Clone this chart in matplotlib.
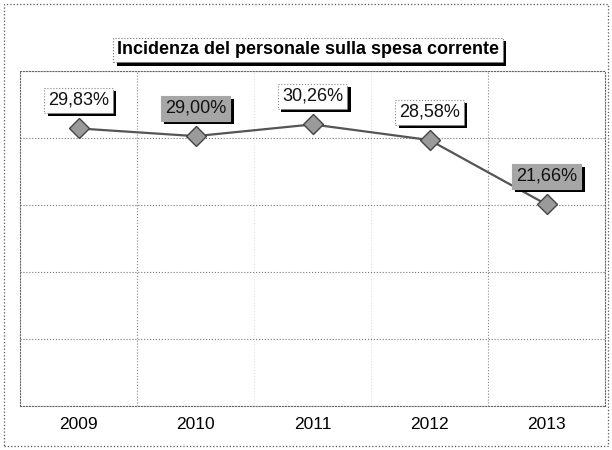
import matplotlib
matplotlib.use("Agg")
import matplotlib.pyplot as plt
import matplotlib.patheffects as pe
from matplotlib.patches import Rectangle
import numpy as np

plt.rcParams['font.family'] = ['Liberation Sans', 'DejaVu Sans']

years = ['2009', '2010', '2011', '2012', '2013']
values = [29.83, 29.00, 30.26, 28.58, 21.66]
labels = ['29,83%', '29,00%', '30,26%', '28,58%', '21,66%']
label_shaded = [False, True, False, False, True]
title = 'Incidenza del personale sulla spesa corrente'

fig = plt.figure(figsize=(6.12, 4.5), dpi=100)
ax = fig.add_axes([20/612, 44/450, 585/612, 335/450])

x = np.arange(len(years))
ax.plot(x, values, color='#555555', lw=1.6, marker='D', markersize=10,
        markerfacecolor='#9a9a9a', markeredgecolor='#444444', markeredgewidth=1.0, zorder=3)

ax.set_xlim(-0.5, len(years) - 0.5)
ax.set_ylim(0, 36)
ax.set_yticks(np.linspace(0, 36, 6))
ax.set_yticklabels([])
ax.tick_params(axis='y', length=0)
ax.set_xticks(x)
ax.set_xticklabels(years, fontsize=12.5)
ax.tick_params(axis='x', length=0, pad=8)
ax.grid(axis='y', linestyle=':', color='#777777', lw=0.8)
for b, a in zip(np.arange(0.5, len(years) - 0.5, 1.0), [1.0, 0.25, 0.25, 1.0]):
    ax.axvline(b, linestyle=':', color='#888888', lw=0.8, alpha=a, zorder=1)
for s in ax.spines.values():
    s.set_linestyle(':')
    s.set_color('#666666')
    s.set_linewidth(0.8)

for xi, v, lab, sh in zip(x, values, labels, label_shaded):
    if sh:
        bb = dict(boxstyle='square,pad=0.22', facecolor='#a6a6a6', edgecolor='#a6a6a6', lw=0.8)
    else:
        bb = dict(boxstyle='square,pad=0.22', facecolor='white', edgecolor='#888888', lw=0.8, linestyle=':')
    t = ax.annotate(lab, (xi, v), xytext=(0, 14), textcoords='offset points',
                    ha='center', va='bottom', fontsize=13, color='#111111', bbox=bb, zorder=5)
    t.get_bbox_patch().set_path_effects([
        pe.withSimplePatchShadow(offset=(2.5, -2.5), shadow_rgbFace='black', alpha=1.0)])

tt = fig.text(308/612, 1 - 50/450, title, ha='center', va='center', fontsize=13,
              fontweight='bold', color='black',
              bbox=dict(boxstyle='square,pad=0.2', facecolor='white', edgecolor='#777777',
                        lw=0.8, linestyle=':'))
tt.get_bbox_patch().set_path_effects([
    pe.withSimplePatchShadow(offset=(2.5, -2.5), shadow_rgbFace='black', alpha=1.0)])

fig.patches.append(Rectangle((4/612, 4/450), 604/612, 442/450, transform=fig.transFigure,
                             fill=False, linestyle=':', edgecolor='#555555', lw=0.9))

fig.savefig('out.png', dpi=100)
